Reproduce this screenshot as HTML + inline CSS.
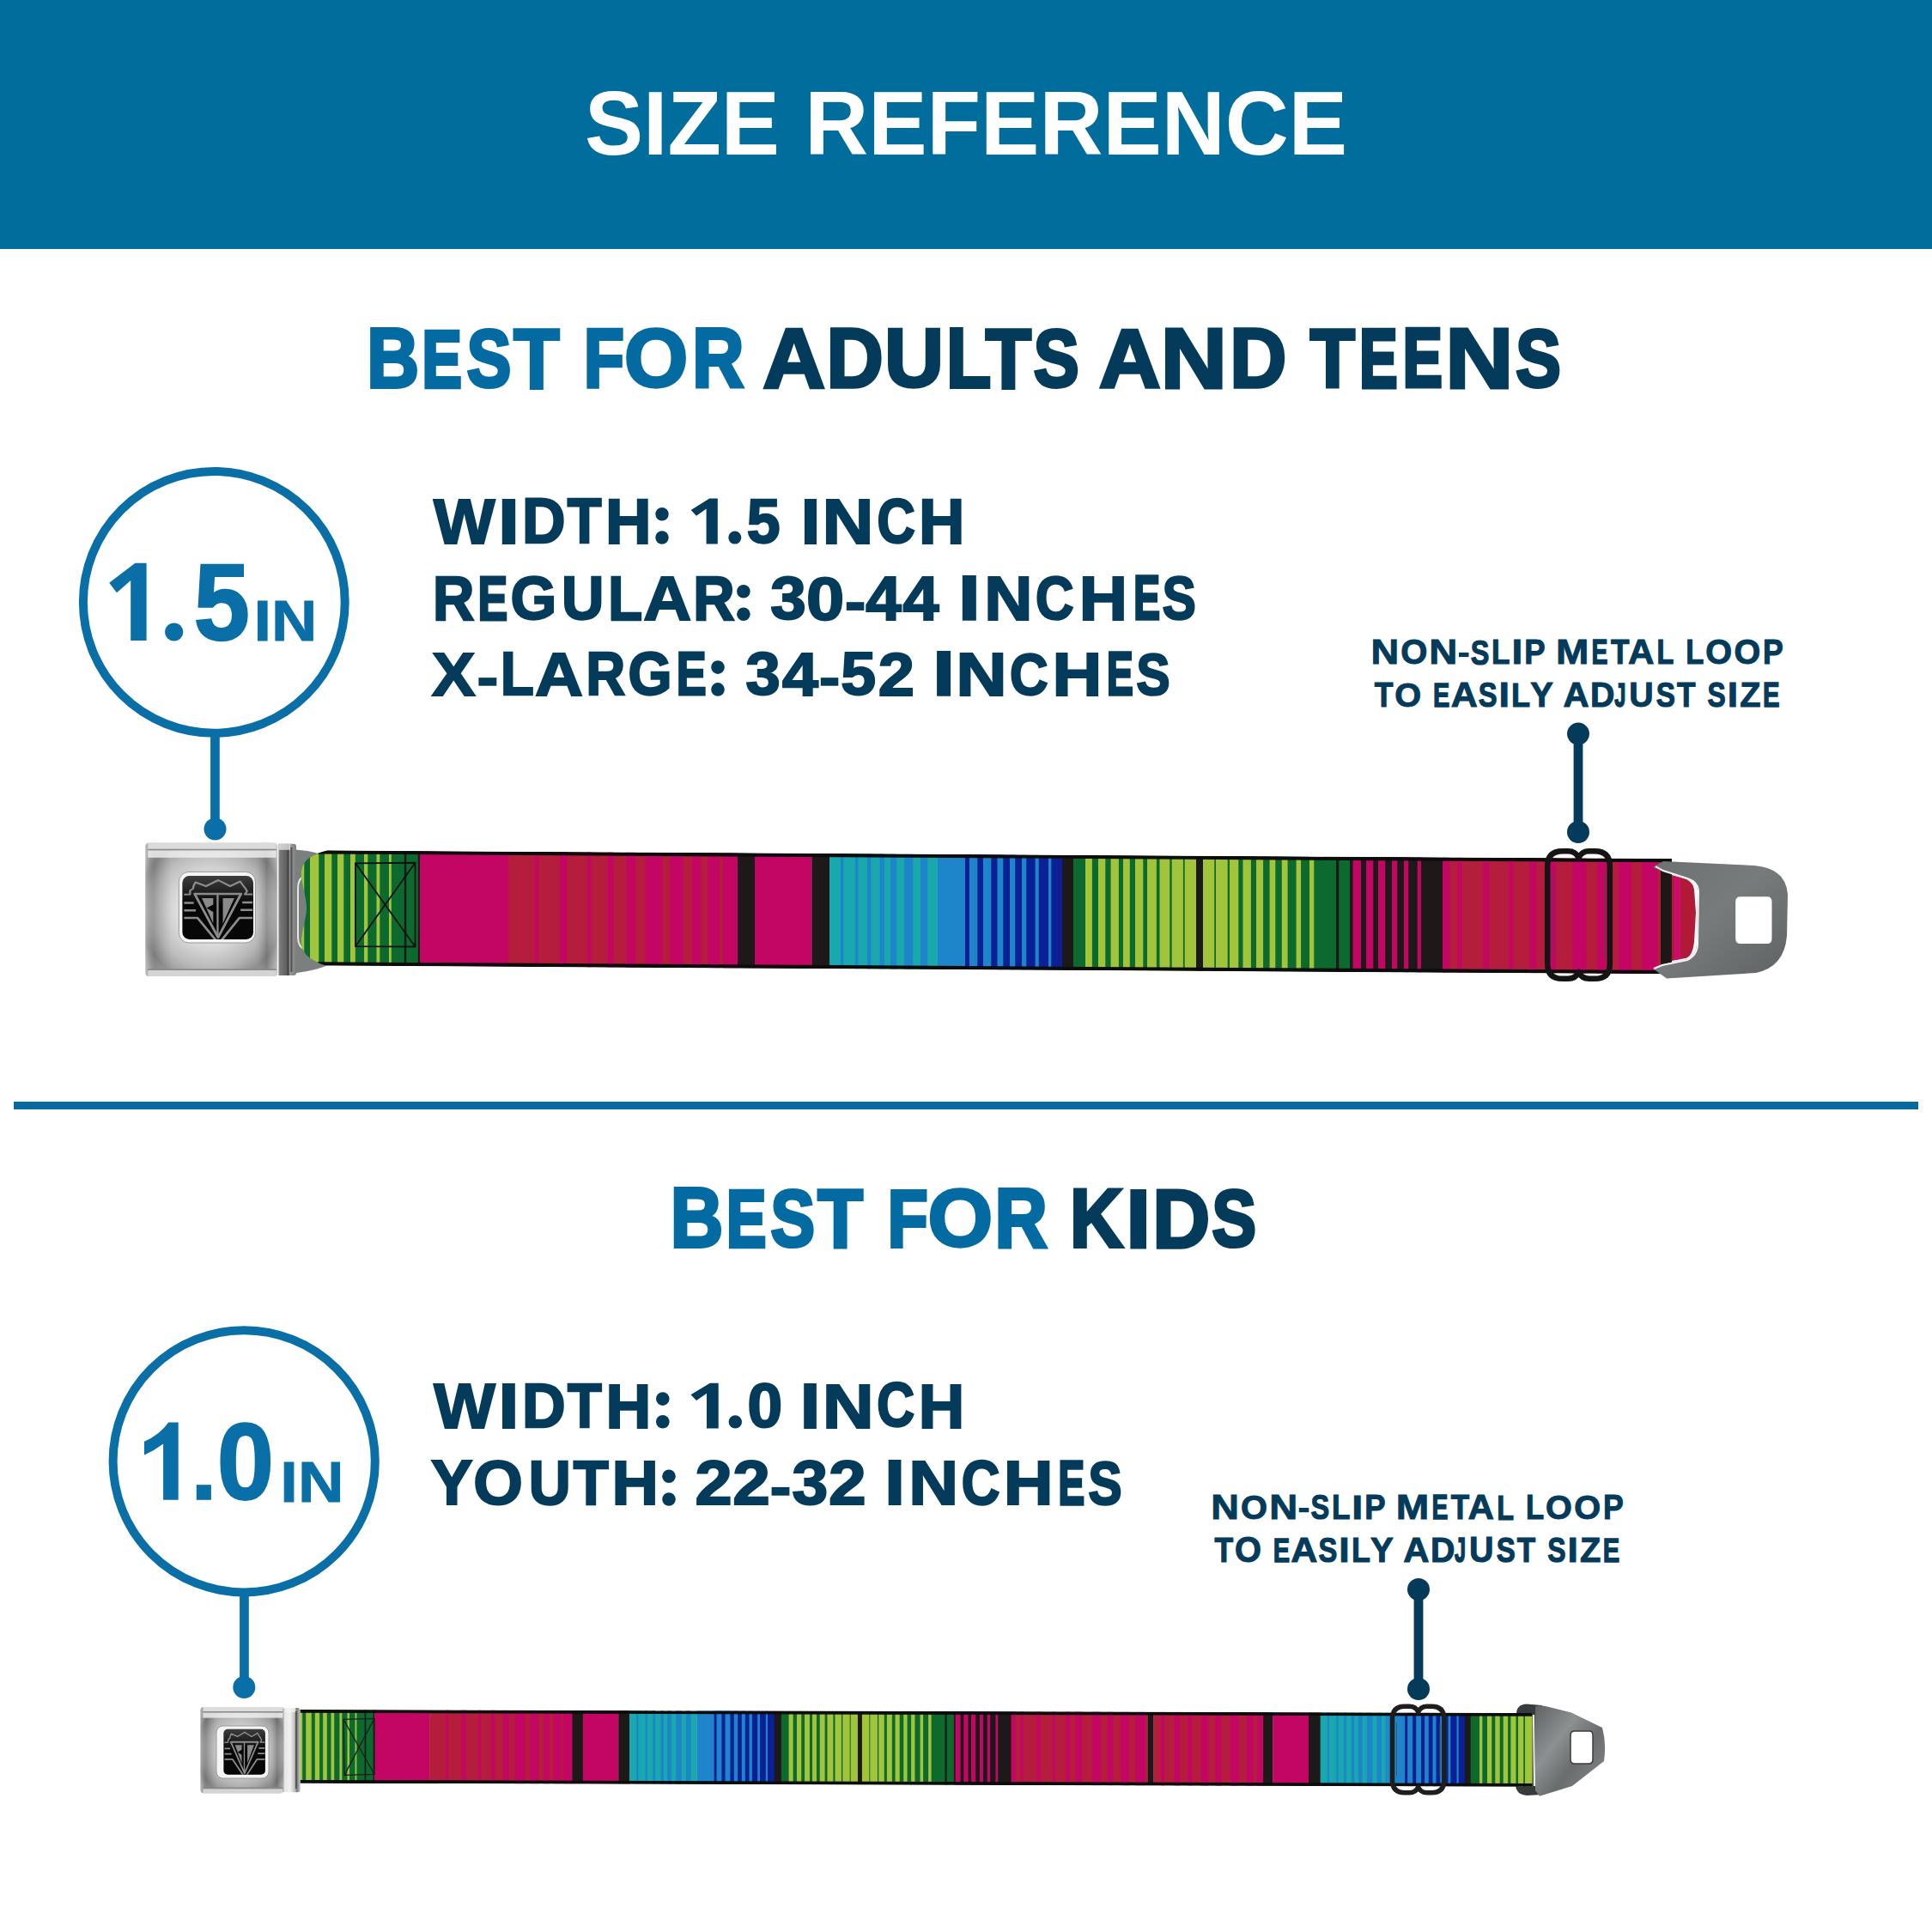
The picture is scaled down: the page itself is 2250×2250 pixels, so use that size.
<!DOCTYPE html>
<html><head><meta charset="utf-8"><style>
html,body{margin:0;padding:0;background:#fff;}
svg{display:block;}
text{font-family:"Liberation Sans",sans-serif;font-weight:bold;}
</style></head><body>
<svg width="2250" height="2250" viewBox="0 0 2250 2250">
<defs>
<radialGradient id="bk1R" cx="0.5" cy="0.5" r="0.64">
<stop offset="0" stop-color="#eaeaea"/><stop offset="0.42" stop-color="#d9d9d9"/><stop offset="0.68" stop-color="#b5b5b5"/><stop offset="0.86" stop-color="#8e8e8e"/><stop offset="1" stop-color="#a9a9a9"/>
</radialGradient>
<radialGradient id="bk2R" cx="0.5" cy="0.5" r="0.64">
<stop offset="0" stop-color="#e2e2e2"/><stop offset="0.42" stop-color="#cdcdcd"/><stop offset="0.68" stop-color="#a9a9a9"/><stop offset="0.86" stop-color="#858585"/><stop offset="1" stop-color="#a0a0a0"/>
</radialGradient>
<linearGradient id="bodyH" x1="0" y1="0" x2="1" y2="0">
<stop offset="0" stop-color="#fff" stop-opacity="0.25"/><stop offset="0.07" stop-color="#000" stop-opacity="0.12"/><stop offset="0.2" stop-color="#fff" stop-opacity="0.1"/><stop offset="0.8" stop-color="#fff" stop-opacity="0.0"/><stop offset="0.92" stop-color="#000" stop-opacity="0.18"/><stop offset="1" stop-color="#fff" stop-opacity="0.15"/>
</linearGradient>
<linearGradient id="clipGbk2" x1="0" y1="0" x2="1" y2="0">
<stop offset="0" stop-color="#9a9a9a"/><stop offset="0.15" stop-color="#e6e6e6"/><stop offset="0.45" stop-color="#f2f2f2"/><stop offset="0.7" stop-color="#bdbdbd"/><stop offset="0.82" stop-color="#7a7a7a"/><stop offset="1" stop-color="#cfcfcf"/>
</linearGradient>
<linearGradient id="clipGbk1" x1="0" y1="0" x2="1" y2="0">
<stop offset="0" stop-color="#e8e8e8"/><stop offset="0.12" stop-color="#f4f4f4"/><stop offset="0.2" stop-color="#7a7a7a"/><stop offset="0.55" stop-color="#5e5e5e"/><stop offset="0.62" stop-color="#3e3e3e"/><stop offset="0.7" stop-color="#9a9a9a"/><stop offset="1" stop-color="#7e7e7e"/>
</linearGradient>
<linearGradient id="glossG" x1="0" y1="0" x2="0" y2="1">
<stop offset="0" stop-color="#fff" stop-opacity="0.22"/><stop offset="1" stop-color="#fff" stop-opacity="0"/>
</linearGradient>
<linearGradient id="tabG" x1="0" y1="0" x2="1" y2="1">
<stop offset="0" stop-color="#6e7171"/><stop offset="0.45" stop-color="#787b7b"/><stop offset="1" stop-color="#5f6262"/>
</linearGradient>
<linearGradient id="tab2G" x1="0" y1="0" x2="1" y2="1">
<stop offset="0" stop-color="#606363"/><stop offset="0.35" stop-color="#8d9090"/><stop offset="0.6" stop-color="#6a6d6d"/><stop offset="1" stop-color="#8a8d8d"/>
</linearGradient>
<clipPath id="b1clip"><path d="M382,995.2 C362,1000 352,1008 351,1020 C350,1035 357,1048 357,1062 C357,1076 350,1090 351,1104 C352,1116 362,1124 380,1129.4 L1947,1129.4 L1947,995.2 Z"/></clipPath>
<clipPath id="b2clip"><rect x="349" y="1992.8" width="1435.5" height="85.7"/></clipPath>
</defs>
<rect x="0" y="0" width="2250" height="290" fill="#016d9c"/>
<rect x="16" y="1283" width="2218" height="9" fill="#066a9e"/>
<text transform="translate(680.97,180.0) scale(0.9582,1)" font-size="106.57" fill="#ffffff" >SIZE</text><text transform="translate(937.25,180.0) scale(0.9678,1)" font-size="105.85" fill="#ffffff" >REFERENCE</text><text transform="translate(427.27,451.0) scale(0.8609,1)" font-size="97.71" fill="#046ba2" stroke="#046ba2" stroke-width="3.95" stroke-linejoin="miter" >B</text><text transform="translate(491.61,450.81803921568627) scale(0.7278,1)" font-size="95.36" fill="#046ba2" stroke="#046ba2" stroke-width="4.67" stroke-linejoin="miter" >E</text><text transform="translate(543.78,450.0) scale(0.8174,1)" font-size="94.48" fill="#046ba2" stroke="#046ba2" stroke-width="4.16" stroke-linejoin="miter" >S</text><text transform="translate(598.37,451.6776470588235) scale(0.8930,1)" font-size="97.59" fill="#046ba2" stroke="#046ba2" stroke-width="3.81" stroke-linejoin="miter" >T</text><text transform="translate(679.89,450.47999999999973) scale(0.7951,1)" font-size="96.31" fill="#046ba2" stroke="#046ba2" stroke-width="4.28" stroke-linejoin="miter" >F</text><text transform="translate(727.01,450.1913725490197) scale(0.9931,1)" font-size="96.08" fill="#046ba2" stroke="#046ba2" stroke-width="3.42" stroke-linejoin="miter" >O</text><text transform="translate(806.24,451.3098039215685) scale(0.8543,1)" font-size="97.54" fill="#046ba2" stroke="#046ba2" stroke-width="3.98" stroke-linejoin="miter" >R</text><text transform="translate(888.31,451.2823529411764) scale(1.0362,1)" font-size="97.48" fill="#043a5a" stroke="#043a5a" stroke-width="3.28" stroke-linejoin="miter" >A</text><text transform="translate(962.47,451.47999999999973) scale(0.9408,1)" font-size="97.55" fill="#043a5a" stroke="#043a5a" stroke-width="3.61" stroke-linejoin="miter" >D</text><text transform="translate(1030.02,449.9937254901956) scale(0.9890,1)" font-size="96.77" fill="#043a5a" stroke="#043a5a" stroke-width="3.44" stroke-linejoin="miter" >U</text><text transform="translate(1102.00,451.0) scale(0.8770,1)" font-size="97.54" fill="#043a5a" stroke="#043a5a" stroke-width="3.88" stroke-linejoin="miter" >L</text><text transform="translate(1147.68,451.6776470588235) scale(0.8931,1)" font-size="97.59" fill="#043a5a" stroke="#043a5a" stroke-width="3.81" stroke-linejoin="miter" >T</text><text transform="translate(1203.72,450.0) scale(0.8393,1)" font-size="94.48" fill="#043a5a" stroke="#043a5a" stroke-width="4.05" stroke-linejoin="miter" >S</text><text transform="translate(1279.73,450.8682352941176) scale(1.0255,1)" font-size="97.17" fill="#043a5a" stroke="#043a5a" stroke-width="3.32" stroke-linejoin="miter" >A</text><text transform="translate(1351.47,451.7647058823528) scale(1.0819,1)" font-size="99.39" fill="#043a5a" stroke="#043a5a" stroke-width="3.14" stroke-linejoin="miter" >N</text><text transform="translate(1432.14,451.47999999999973) scale(0.9380,1)" font-size="97.55" fill="#043a5a" stroke="#043a5a" stroke-width="3.62" stroke-linejoin="miter" >D</text><text transform="translate(1525.74,451.09411764705874) scale(0.8871,1)" font-size="96.30" fill="#043a5a" stroke="#043a5a" stroke-width="3.83" stroke-linejoin="miter" >T</text><text transform="translate(1583.24,450.7647058823528) scale(0.6880,1)" font-size="96.26" fill="#043a5a" stroke="#043a5a" stroke-width="4.94" stroke-linejoin="miter" >E</text><text transform="translate(1633.69,450.46980392156854) scale(0.7094,1)" font-size="97.17" fill="#043a5a" stroke="#043a5a" stroke-width="4.79" stroke-linejoin="miter" >E</text><text transform="translate(1683.08,451.7647058823528) scale(1.1097,1)" font-size="99.41" fill="#043a5a" stroke="#043a5a" stroke-width="3.06" stroke-linejoin="miter" >N</text><text transform="translate(1765.37,450.0) scale(0.8339,1)" font-size="94.48" fill="#043a5a" stroke="#043a5a" stroke-width="4.08" stroke-linejoin="miter" >S</text><text transform="translate(504.89,632.6800000000005) scale(1.0222,1)" font-size="74.12" fill="#043a5a" stroke="#043a5a" stroke-width="2.15" stroke-linejoin="miter" >W</text><text transform="translate(579.80,632.6800000000005) scale(1.2275,1)" font-size="74.68" fill="#043a5a" stroke="#043a5a" stroke-width="1.79" stroke-linejoin="miter" >I</text><text transform="translate(607.90,632.4635294117653) scale(0.9517,1)" font-size="73.57" fill="#043a5a" stroke="#043a5a" stroke-width="2.31" stroke-linejoin="miter" >D</text><text transform="translate(660.77,632.4635294117653) scale(0.8845,1)" font-size="73.57" fill="#043a5a" stroke="#043a5a" stroke-width="2.49" stroke-linejoin="miter" >T</text><text transform="translate(704.94,632.6800000000005) scale(0.9975,1)" font-size="74.38" fill="#043a5a" stroke="#043a5a" stroke-width="2.21" stroke-linejoin="miter" >H</text><text transform="translate(869.72,631.9247058823527) scale(0.9673,1)" font-size="72.15" fill="#043a5a" stroke="#043a5a" stroke-width="2.27" stroke-linejoin="miter" >5</text><text transform="translate(932.38,632.6800000000005) scale(1.1216,1)" font-size="73.81" fill="#043a5a" stroke="#043a5a" stroke-width="1.96" stroke-linejoin="miter" >I</text><text transform="translate(957.61,632.6800000000005) scale(1.1250,1)" font-size="73.81" fill="#043a5a" stroke="#043a5a" stroke-width="1.96" stroke-linejoin="miter" >N</text><text transform="translate(1021.40,631.5388235294118) scale(0.8576,1)" font-size="71.42" fill="#043a5a" stroke="#043a5a" stroke-width="2.57" stroke-linejoin="miter" >C</text><text transform="translate(1070.09,632.6800000000005) scale(0.9957,1)" font-size="74.38" fill="#043a5a" stroke="#043a5a" stroke-width="2.21" stroke-linejoin="miter" >H</text><text transform="translate(504.09,721.7835294117647) scale(0.9288,1)" font-size="72.19" fill="#043a5a" stroke="#043a5a" stroke-width="2.37" stroke-linejoin="miter" >R</text><text transform="translate(556.42,721.7647058823528) scale(0.7244,1)" font-size="71.85" fill="#043a5a" stroke="#043a5a" stroke-width="3.04" stroke-linejoin="miter" >E</text><text transform="translate(594.47,721.4541176470582) scale(0.9697,1)" font-size="71.28" fill="#043a5a" stroke="#043a5a" stroke-width="2.27" stroke-linejoin="miter" >G</text><text transform="translate(653.92,721.0784313725484) scale(0.9620,1)" font-size="71.17" fill="#043a5a" stroke="#043a5a" stroke-width="2.29" stroke-linejoin="miter" >U</text><text transform="translate(708.33,721.7835294117647) scale(0.9045,1)" font-size="72.19" fill="#043a5a" stroke="#043a5a" stroke-width="2.43" stroke-linejoin="miter" >L</text><text transform="translate(749.34,722.0) scale(1.0645,1)" font-size="72.82" fill="#043a5a" stroke="#043a5a" stroke-width="2.07" stroke-linejoin="miter" >A</text><text transform="translate(807.20,721.7835294117647) scale(0.9290,1)" font-size="72.19" fill="#043a5a" stroke="#043a5a" stroke-width="2.37" stroke-linejoin="miter" >R</text><text transform="translate(897.27,721.2125490196074) scale(1.0479,1)" font-size="71.17" fill="#043a5a" stroke="#043a5a" stroke-width="2.10" stroke-linejoin="miter" >3</text><text transform="translate(938.91,721.5952941176463) scale(1.1286,1)" font-size="70.57" fill="#043a5a" stroke="#043a5a" stroke-width="1.95" stroke-linejoin="miter" >0</text><text transform="translate(1008.16,722.0) scale(1.0236,1)" font-size="72.82" fill="#043a5a" stroke="#043a5a" stroke-width="2.15" stroke-linejoin="miter" >4</text><text transform="translate(1051.60,722.0) scale(1.0385,1)" font-size="72.82" fill="#043a5a" stroke="#043a5a" stroke-width="2.12" stroke-linejoin="miter" >4</text><text transform="translate(1115.57,722.4799999999998) scale(1.3044,1)" font-size="73.59" fill="#043a5a" stroke="#043a5a" stroke-width="1.69" stroke-linejoin="miter" >I</text><text transform="translate(1146.23,722.0) scale(1.0730,1)" font-size="72.52" fill="#043a5a" stroke="#043a5a" stroke-width="2.05" stroke-linejoin="miter" >N</text><text transform="translate(1206.07,721.4988235294115) scale(0.8793,1)" font-size="70.15" fill="#043a5a" stroke="#043a5a" stroke-width="2.50" stroke-linejoin="miter" >C</text><text transform="translate(1256.84,722.0) scale(1.0751,1)" font-size="72.52" fill="#043a5a" stroke="#043a5a" stroke-width="2.05" stroke-linejoin="miter" >H</text><text transform="translate(1320.16,721.4799999999998) scale(0.6457,1)" font-size="71.31" fill="#043a5a" stroke="#043a5a" stroke-width="3.41" stroke-linejoin="miter" >E</text><text transform="translate(1353.77,720.9623529411759) scale(0.8307,1)" font-size="70.32" fill="#043a5a" stroke="#043a5a" stroke-width="2.65" stroke-linejoin="miter" >S</text><text transform="translate(503.00,809.6800000000005) scale(1.0646,1)" font-size="71.05" fill="#043a5a" stroke="#043a5a" stroke-width="2.07" stroke-linejoin="miter" >X</text><text transform="translate(582.93,809.4635294117653) scale(0.9001,1)" font-size="70.42" fill="#043a5a" stroke="#043a5a" stroke-width="2.44" stroke-linejoin="miter" >L</text><text transform="translate(623.05,809.6800000000005) scale(1.0911,1)" font-size="71.05" fill="#043a5a" stroke="#043a5a" stroke-width="2.02" stroke-linejoin="miter" >A</text><text transform="translate(682.45,809.4635294117653) scale(0.8978,1)" font-size="70.42" fill="#043a5a" stroke="#043a5a" stroke-width="2.45" stroke-linejoin="miter" >R</text><text transform="translate(731.40,809.0094117647056) scale(0.9407,1)" font-size="69.72" fill="#043a5a" stroke="#043a5a" stroke-width="2.34" stroke-linejoin="miter" >G</text><text transform="translate(787.74,809.4447058823533) scale(0.7436,1)" font-size="70.36" fill="#043a5a" stroke="#043a5a" stroke-width="2.96" stroke-linejoin="miter" >E</text><text transform="translate(868.47,808.8674509803924) scale(1.0149,1)" font-size="71.16" fill="#043a5a" stroke="#043a5a" stroke-width="2.17" stroke-linejoin="miter" >3</text><text transform="translate(910.97,809.6800000000005) scale(1.0621,1)" font-size="71.05" fill="#043a5a" stroke="#043a5a" stroke-width="2.07" stroke-linejoin="miter" >4</text><text transform="translate(979.26,808.8800000000002) scale(1.0335,1)" font-size="71.05" fill="#043a5a" stroke="#043a5a" stroke-width="2.13" stroke-linejoin="miter" >5</text><text transform="translate(1022.83,809.6800000000005) scale(1.0642,1)" font-size="71.28" fill="#043a5a" stroke="#043a5a" stroke-width="2.07" stroke-linejoin="miter" >2</text><text transform="translate(1085.73,810.1600000000003) scale(1.3090,1)" font-size="73.29" fill="#043a5a" stroke="#043a5a" stroke-width="1.68" stroke-linejoin="miter" >I</text><text transform="translate(1113.22,809.6800000000005) scale(1.1593,1)" font-size="71.05" fill="#043a5a" stroke="#043a5a" stroke-width="1.90" stroke-linejoin="miter" >N</text><text transform="translate(1176.09,808.6078431372549) scale(0.8895,1)" font-size="69.30" fill="#043a5a" stroke="#043a5a" stroke-width="2.47" stroke-linejoin="miter" >C</text><text transform="translate(1225.39,809.6800000000005) scale(1.1286,1)" font-size="71.05" fill="#043a5a" stroke="#043a5a" stroke-width="1.95" stroke-linejoin="miter" >H</text><text transform="translate(1288.93,809.1600000000003) scale(0.6513,1)" font-size="70.70" fill="#043a5a" stroke="#043a5a" stroke-width="3.38" stroke-linejoin="miter" >E</text><text transform="translate(1323.62,808.5482352941177) scale(0.8473,1)" font-size="69.05" fill="#043a5a" stroke="#043a5a" stroke-width="2.60" stroke-linejoin="miter" >S</text><text transform="translate(225.65,744.5843137254881) scale(0.9242,1)" font-size="126.64" fill="#0a6fa6" stroke="#0a6fa6" stroke-width="2.38" stroke-linejoin="miter" >5</text><text transform="translate(295.55,745.7647058823528) scale(1.1095,1)" font-size="66.47" fill="#0a6fa6" stroke="#0a6fa6" stroke-width="0.90" stroke-linejoin="miter" >IN</text><text transform="translate(1596.45,773.2666666666665) scale(1.1138,1)" font-size="40.60" fill="#043a5a" stroke="#043a5a" stroke-width="0.90" stroke-linejoin="miter" >N</text><text transform="translate(1631.13,773.2666666666665) scale(0.9766,1)" font-size="40.97" fill="#043a5a" stroke="#043a5a" stroke-width="1.02" stroke-linejoin="miter" >O</text><text transform="translate(1664.33,773.2666666666665) scale(1.1271,1)" font-size="40.60" fill="#043a5a" stroke="#043a5a" stroke-width="0.89" stroke-linejoin="miter" >N</text><text transform="translate(1712.82,773.6964705882351) scale(0.8134,1)" font-size="39.85" fill="#043a5a" stroke="#043a5a" stroke-width="1.23" stroke-linejoin="miter" >S</text><text transform="translate(1736.93,773.0658823529411) scale(0.8763,1)" font-size="40.02" fill="#043a5a" stroke="#043a5a" stroke-width="1.14" stroke-linejoin="miter" >L</text><text transform="translate(1760.52,773.0658823529411) scale(1.1526,1)" font-size="40.02" fill="#043a5a" stroke="#043a5a" stroke-width="0.87" stroke-linejoin="miter" >I</text><text transform="translate(1775.37,773.0658823529411) scale(0.9101,1)" font-size="40.02" fill="#043a5a" stroke="#043a5a" stroke-width="1.10" stroke-linejoin="miter" >P</text><text transform="translate(1812.08,773.2666666666665) scale(1.1359,1)" font-size="40.60" fill="#043a5a" stroke="#043a5a" stroke-width="0.88" stroke-linejoin="miter" >M</text><text transform="translate(1853.60,773.0627450980392) scale(0.7108,1)" font-size="40.01" fill="#043a5a" stroke="#043a5a" stroke-width="1.41" stroke-linejoin="miter" >E</text><text transform="translate(1876.11,773.2666666666665) scale(0.8651,1)" font-size="40.60" fill="#043a5a" stroke="#043a5a" stroke-width="1.16" stroke-linejoin="miter" >T</text><text transform="translate(1895.90,773.2666666666665) scale(1.0399,1)" font-size="40.60" fill="#043a5a" stroke="#043a5a" stroke-width="0.96" stroke-linejoin="miter" >A</text><text transform="translate(1929.50,773.4643137254901) scale(0.8106,1)" font-size="40.01" fill="#043a5a" stroke="#043a5a" stroke-width="1.23" stroke-linejoin="miter" >L</text><text transform="translate(1963.23,773.0658823529411) scale(0.8604,1)" font-size="40.02" fill="#043a5a" stroke="#043a5a" stroke-width="1.16" stroke-linejoin="miter" >L</text><text transform="translate(1986.14,773.2666666666665) scale(0.9682,1)" font-size="40.97" fill="#043a5a" stroke="#043a5a" stroke-width="1.03" stroke-linejoin="miter" >O</text><text transform="translate(2019.44,773.2666666666665) scale(0.9648,1)" font-size="40.99" fill="#043a5a" stroke="#043a5a" stroke-width="1.04" stroke-linejoin="miter" >O</text><text transform="translate(2053.12,773.0658823529411) scale(0.8885,1)" font-size="40.02" fill="#043a5a" stroke="#043a5a" stroke-width="1.13" stroke-linejoin="miter" >P</text><text transform="translate(1600.66,823.066666666667) scale(0.8785,1)" font-size="40.31" fill="#043a5a" stroke="#043a5a" stroke-width="1.14" stroke-linejoin="miter" >T</text><text transform="translate(1624.36,823.066666666667) scale(1.0033,1)" font-size="39.52" fill="#043a5a" stroke="#043a5a" stroke-width="1.00" stroke-linejoin="miter" >O</text><text transform="translate(1669.07,822.8627450980395) scale(0.7293,1)" font-size="39.72" fill="#043a5a" stroke="#043a5a" stroke-width="1.37" stroke-linejoin="miter" >E</text><text transform="translate(1689.72,823.066666666667) scale(1.0679,1)" font-size="40.31" fill="#043a5a" stroke="#043a5a" stroke-width="0.94" stroke-linejoin="miter" >A</text><text transform="translate(1721.87,822.8658823529414) scale(0.8153,1)" font-size="40.10" fill="#043a5a" stroke="#043a5a" stroke-width="1.23" stroke-linejoin="miter" >S</text><text transform="translate(1745.50,822.8658823529414) scale(1.1321,1)" font-size="39.73" fill="#043a5a" stroke="#043a5a" stroke-width="0.88" stroke-linejoin="miter" >I</text><text transform="translate(1760.07,822.8658823529414) scale(0.9074,1)" font-size="39.73" fill="#043a5a" stroke="#043a5a" stroke-width="1.10" stroke-linejoin="miter" >L</text><text transform="translate(1782.28,823.066666666667) scale(0.9889,1)" font-size="40.31" fill="#043a5a" stroke="#043a5a" stroke-width="1.01" stroke-linejoin="miter" >Y</text><text transform="translate(1820.38,823.066666666667) scale(1.0352,1)" font-size="40.31" fill="#043a5a" stroke="#043a5a" stroke-width="0.97" stroke-linejoin="miter" >A</text><text transform="translate(1852.08,823.066666666667) scale(0.9754,1)" font-size="40.31" fill="#043a5a" stroke="#043a5a" stroke-width="1.03" stroke-linejoin="miter" >D</text><text transform="translate(1880.15,822.7152941176472) scale(0.6010,1)" font-size="39.25" fill="#043a5a" stroke="#043a5a" stroke-width="1.66" stroke-linejoin="miter" >J</text><text transform="translate(1897.14,823.2235294117648) scale(0.9691,1)" font-size="40.54" fill="#043a5a" stroke="#043a5a" stroke-width="1.03" stroke-linejoin="miter" >U</text><text transform="translate(1928.85,822.9129411764708) scale(0.8277,1)" font-size="40.28" fill="#043a5a" stroke="#043a5a" stroke-width="1.21" stroke-linejoin="miter" >S</text><text transform="translate(1952.91,823.066666666667) scale(0.8742,1)" font-size="40.31" fill="#043a5a" stroke="#043a5a" stroke-width="1.14" stroke-linejoin="miter" >T</text><text transform="translate(1988.38,823.3427450980394) scale(0.7898,1)" font-size="40.25" fill="#043a5a" stroke="#043a5a" stroke-width="1.27" stroke-linejoin="miter" >S</text><text transform="translate(2011.85,822.8658823529414) scale(1.1178,1)" font-size="39.73" fill="#043a5a" stroke="#043a5a" stroke-width="0.89" stroke-linejoin="miter" >I</text><text transform="translate(2026.18,823.066666666667) scale(0.9841,1)" font-size="40.31" fill="#043a5a" stroke="#043a5a" stroke-width="1.02" stroke-linejoin="miter" >Z</text><text transform="translate(2052.90,822.8627450980395) scale(0.7392,1)" font-size="39.72" fill="#043a5a" stroke="#043a5a" stroke-width="1.35" stroke-linejoin="miter" >E</text><text transform="translate(780.86,1452.1600000000012) scale(0.8735,1)" font-size="97.36" fill="#046ba2" stroke="#046ba2" stroke-width="3.89" stroke-linejoin="miter" >B</text><text transform="translate(846.06,1451.7521568627462) scale(0.7331,1)" font-size="94.74" fill="#046ba2" stroke="#046ba2" stroke-width="4.64" stroke-linejoin="miter" >E</text><text transform="translate(897.57,1451.1600000000012) scale(0.8243,1)" font-size="93.60" fill="#046ba2" stroke="#046ba2" stroke-width="4.12" stroke-linejoin="miter" >S</text><text transform="translate(952.22,1452.8933333333343) scale(0.8973,1)" font-size="96.18" fill="#046ba2" stroke="#046ba2" stroke-width="3.79" stroke-linejoin="miter" >T</text><text transform="translate(1033.68,1451.7396078431384) scale(0.8033,1)" font-size="95.39" fill="#046ba2" stroke="#046ba2" stroke-width="4.23" stroke-linejoin="miter" >F</text><text transform="translate(1080.58,1451.138039215687) scale(1.0280,1)" font-size="94.59" fill="#046ba2" stroke="#046ba2" stroke-width="3.31" stroke-linejoin="miter" >O</text><text transform="translate(1158.57,1452.6149019607856) scale(0.8711,1)" font-size="97.46" fill="#046ba2" stroke="#046ba2" stroke-width="3.90" stroke-linejoin="miter" >R</text><text transform="translate(1245.91,1452.1600000000012) scale(0.8922,1)" font-size="96.18" fill="#043a5a" stroke="#043a5a" stroke-width="3.81" stroke-linejoin="miter" >K</text><text transform="translate(1310.99,1452.724705882354) scale(1.0858,1)" font-size="97.31" fill="#043a5a" stroke="#043a5a" stroke-width="3.13" stroke-linejoin="miter" >I</text><text transform="translate(1342.29,1452.640000000001) scale(0.9566,1)" font-size="96.91" fill="#043a5a" stroke="#043a5a" stroke-width="3.55" stroke-linejoin="miter" >D</text><text transform="translate(1411.57,1451.1600000000012) scale(0.8243,1)" font-size="93.60" fill="#043a5a" stroke="#043a5a" stroke-width="4.12" stroke-linejoin="miter" >S</text><text transform="translate(505.16,1662.6799999999978) scale(1.0339,1)" font-size="73.31" fill="#043a5a" stroke="#043a5a" stroke-width="2.13" stroke-linejoin="miter" >W</text><text transform="translate(580.23,1662.6799999999978) scale(1.1953,1)" font-size="73.31" fill="#043a5a" stroke="#043a5a" stroke-width="1.84" stroke-linejoin="miter" >I</text><text transform="translate(608.02,1662.4635294117625) scale(0.9608,1)" font-size="73.01" fill="#043a5a" stroke="#043a5a" stroke-width="2.29" stroke-linejoin="miter" >D</text><text transform="translate(660.95,1662.4635294117625) scale(0.8946,1)" font-size="72.73" fill="#043a5a" stroke="#043a5a" stroke-width="2.46" stroke-linejoin="miter" >T</text><text transform="translate(705.38,1662.6799999999978) scale(1.0061,1)" font-size="72.72" fill="#043a5a" stroke="#043a5a" stroke-width="2.19" stroke-linejoin="miter" >H</text><text transform="translate(870.53,1661.914509803919) scale(1.0114,1)" font-size="72.25" fill="#043a5a" stroke="#043a5a" stroke-width="2.18" stroke-linejoin="miter" >0</text><text transform="translate(931.43,1662.6799999999978) scale(1.1809,1)" font-size="73.31" fill="#043a5a" stroke="#043a5a" stroke-width="1.86" stroke-linejoin="miter" >I</text><text transform="translate(957.65,1662.6799999999978) scale(1.1377,1)" font-size="73.02" fill="#043a5a" stroke="#043a5a" stroke-width="1.93" stroke-linejoin="miter" >N</text><text transform="translate(1021.15,1661.488627450978) scale(0.8484,1)" font-size="71.48" fill="#043a5a" stroke="#043a5a" stroke-width="2.59" stroke-linejoin="miter" >C</text><text transform="translate(1069.71,1662.6799999999978) scale(1.0198,1)" font-size="72.72" fill="#043a5a" stroke="#043a5a" stroke-width="2.16" stroke-linejoin="miter" >H</text><text transform="translate(502.10,1752.439999999999) scale(0.9903,1)" font-size="73.31" fill="#043a5a" stroke="#043a5a" stroke-width="2.22" stroke-linejoin="miter" >Y</text><text transform="translate(551.37,1752.4933333333317) scale(1.0247,1)" font-size="72.29" fill="#043a5a" stroke="#043a5a" stroke-width="2.15" stroke-linejoin="miter" >O</text><text transform="translate(615.77,1752.2870588235278) scale(0.9468,1)" font-size="71.61" fill="#043a5a" stroke="#043a5a" stroke-width="2.32" stroke-linejoin="miter" >U</text><text transform="translate(667.87,1752.2235294117636) scale(0.9192,1)" font-size="73.01" fill="#043a5a" stroke="#043a5a" stroke-width="2.39" stroke-linejoin="miter" >T</text><text transform="translate(712.42,1752.439999999999) scale(1.0365,1)" font-size="72.72" fill="#043a5a" stroke="#043a5a" stroke-width="2.12" stroke-linejoin="miter" >H</text><text transform="translate(809.59,1752.439999999999) scale(1.0689,1)" font-size="72.54" fill="#043a5a" stroke="#043a5a" stroke-width="2.06" stroke-linejoin="miter" >2</text><text transform="translate(853.13,1752.439999999999) scale(1.0804,1)" font-size="72.53" fill="#043a5a" stroke="#043a5a" stroke-width="2.04" stroke-linejoin="miter" >2</text><text transform="translate(922.50,1752.4431372549004) scale(1.0474,1)" font-size="71.59" fill="#043a5a" stroke="#043a5a" stroke-width="2.10" stroke-linejoin="miter" >3</text><text transform="translate(964.96,1752.439999999999) scale(1.0828,1)" font-size="72.52" fill="#043a5a" stroke="#043a5a" stroke-width="2.03" stroke-linejoin="miter" >2</text><text transform="translate(1029.93,1752.439999999999) scale(1.1850,1)" font-size="73.31" fill="#043a5a" stroke="#043a5a" stroke-width="1.86" stroke-linejoin="miter" >I</text><text transform="translate(1058.37,1752.439999999999) scale(1.1023,1)" font-size="72.72" fill="#043a5a" stroke="#043a5a" stroke-width="2.00" stroke-linejoin="miter" >N</text><text transform="translate(1119.78,1752.0674509803907) scale(0.8649,1)" font-size="71.48" fill="#043a5a" stroke="#043a5a" stroke-width="2.54" stroke-linejoin="miter" >C</text><text transform="translate(1168.85,1752.439999999999) scale(1.1028,1)" font-size="72.72" fill="#043a5a" stroke="#043a5a" stroke-width="1.99" stroke-linejoin="miter" >H</text><text transform="translate(1232.62,1751.9199999999987) scale(0.6411,1)" font-size="71.51" fill="#043a5a" stroke="#043a5a" stroke-width="3.43" stroke-linejoin="miter" >E</text><text transform="translate(1267.52,1752.2086274509788) scale(0.8285,1)" font-size="70.67" fill="#043a5a" stroke="#043a5a" stroke-width="2.66" stroke-linejoin="miter" >S</text><text transform="translate(252.72,1746.1803921568642) scale(0.9391,1)" font-size="126.92" fill="#0a6fa6" stroke="#0a6fa6" stroke-width="2.13" stroke-linejoin="miter" >0</text><text transform="translate(326.34,1748.7647058823527) scale(1.0985,1)" font-size="67.54" fill="#0a6fa6" stroke="#0a6fa6" stroke-width="0.91" stroke-linejoin="miter" >IN</text><text transform="translate(1410.22,1769.2666666666667) scale(1.1219,1)" font-size="40.31" fill="#043a5a" stroke="#043a5a" stroke-width="0.89" stroke-linejoin="miter" >N</text><text transform="translate(1445.05,1769.2666666666667) scale(1.0079,1)" font-size="39.51" fill="#043a5a" stroke="#043a5a" stroke-width="0.99" stroke-linejoin="miter" >O</text><text transform="translate(1478.37,1769.2666666666667) scale(1.1324,1)" font-size="40.31" fill="#043a5a" stroke="#043a5a" stroke-width="0.88" stroke-linejoin="miter" >N</text><text transform="translate(1526.58,1769.0658823529411) scale(0.8108,1)" font-size="40.09" fill="#043a5a" stroke="#043a5a" stroke-width="1.23" stroke-linejoin="miter" >S</text><text transform="translate(1550.88,1769.0658823529411) scale(0.8825,1)" font-size="39.73" fill="#043a5a" stroke="#043a5a" stroke-width="1.13" stroke-linejoin="miter" >L</text><text transform="translate(1574.31,1769.0658823529411) scale(1.1775,1)" font-size="39.73" fill="#043a5a" stroke="#043a5a" stroke-width="0.85" stroke-linejoin="miter" >I</text><text transform="translate(1589.31,1769.0658823529411) scale(0.9160,1)" font-size="39.73" fill="#043a5a" stroke="#043a5a" stroke-width="1.09" stroke-linejoin="miter" >P</text><text transform="translate(1625.87,1769.2666666666667) scale(1.1466,1)" font-size="40.31" fill="#043a5a" stroke="#043a5a" stroke-width="0.87" stroke-linejoin="miter" >M</text><text transform="translate(1667.53,1769.0627450980392) scale(0.7139,1)" font-size="39.72" fill="#043a5a" stroke="#043a5a" stroke-width="1.40" stroke-linejoin="miter" >E</text><text transform="translate(1689.86,1769.2666666666667) scale(0.8678,1)" font-size="40.31" fill="#043a5a" stroke="#043a5a" stroke-width="1.15" stroke-linejoin="miter" >T</text><text transform="translate(1709.62,1769.2666666666667) scale(1.0465,1)" font-size="40.31" fill="#043a5a" stroke="#043a5a" stroke-width="0.96" stroke-linejoin="miter" >A</text><text transform="translate(1743.36,1769.6650980392155) scale(0.8032,1)" font-size="40.31" fill="#043a5a" stroke="#043a5a" stroke-width="1.25" stroke-linejoin="miter" >L</text><text transform="translate(1777.04,1769.0658823529411) scale(0.8709,1)" font-size="39.73" fill="#043a5a" stroke="#043a5a" stroke-width="1.15" stroke-linejoin="miter" >L</text><text transform="translate(1800.09,1769.2666666666667) scale(1.0012,1)" font-size="39.52" fill="#043a5a" stroke="#043a5a" stroke-width="1.00" stroke-linejoin="miter" >O</text><text transform="translate(1833.36,1769.2666666666667) scale(1.0033,1)" font-size="39.52" fill="#043a5a" stroke="#043a5a" stroke-width="1.00" stroke-linejoin="miter" >O</text><text transform="translate(1866.92,1769.0658823529411) scale(0.8933,1)" font-size="39.73" fill="#043a5a" stroke="#043a5a" stroke-width="1.12" stroke-linejoin="miter" >P</text><text transform="translate(1414.42,1819.0666666666664) scale(0.8576,1)" font-size="41.33" fill="#043a5a" stroke="#043a5a" stroke-width="1.17" stroke-linejoin="miter" >T</text><text transform="translate(1438.02,1819.0666666666664) scale(0.9538,1)" font-size="41.69" fill="#043a5a" stroke="#043a5a" stroke-width="1.05" stroke-linejoin="miter" >O</text><text transform="translate(1482.80,1818.8627450980389) scale(0.7335,1)" font-size="39.57" fill="#043a5a" stroke="#043a5a" stroke-width="1.36" stroke-linejoin="miter" >E</text><text transform="translate(1503.34,1819.0666666666664) scale(1.0422,1)" font-size="41.33" fill="#043a5a" stroke="#043a5a" stroke-width="0.96" stroke-linejoin="miter" >A</text><text transform="translate(1535.62,1818.690196078431) scale(0.8074,1)" font-size="40.52" fill="#043a5a" stroke="#043a5a" stroke-width="1.24" stroke-linejoin="miter" >S</text><text transform="translate(1559.34,1818.8658823529408) scale(1.0961,1)" font-size="40.74" fill="#043a5a" stroke="#043a5a" stroke-width="0.91" stroke-linejoin="miter" >I</text><text transform="translate(1574.06,1818.8658823529408) scale(0.8794,1)" font-size="40.74" fill="#043a5a" stroke="#043a5a" stroke-width="1.14" stroke-linejoin="miter" >L</text><text transform="translate(1595.96,1819.0666666666664) scale(0.9721,1)" font-size="41.33" fill="#043a5a" stroke="#043a5a" stroke-width="1.03" stroke-linejoin="miter" >Y</text><text transform="translate(1634.19,1819.0666666666664) scale(1.0157,1)" font-size="41.33" fill="#043a5a" stroke="#043a5a" stroke-width="0.98" stroke-linejoin="miter" >A</text><text transform="translate(1665.92,1819.0666666666664) scale(0.9517,1)" font-size="41.33" fill="#043a5a" stroke="#043a5a" stroke-width="1.05" stroke-linejoin="miter" >D</text><text transform="translate(1693.90,1818.693333333333) scale(0.5816,1)" font-size="40.24" fill="#043a5a" stroke="#043a5a" stroke-width="1.72" stroke-linejoin="miter" >J</text><text transform="translate(1710.91,1819.2894117647054) scale(0.9481,1)" font-size="41.65" fill="#043a5a" stroke="#043a5a" stroke-width="1.05" stroke-linejoin="miter" >U</text><text transform="translate(1742.87,1818.8658823529408) scale(0.8019,1)" font-size="41.16" fill="#043a5a" stroke="#043a5a" stroke-width="1.25" stroke-linejoin="miter" >S</text><text transform="translate(1766.82,1819.0666666666664) scale(0.8480,1)" font-size="41.33" fill="#043a5a" stroke="#043a5a" stroke-width="1.18" stroke-linejoin="miter" >T</text><text transform="translate(1802.19,1819.342745098039) scale(0.7983,1)" font-size="40.05" fill="#043a5a" stroke="#043a5a" stroke-width="1.25" stroke-linejoin="miter" >S</text><text transform="translate(1825.58,1818.8658823529408) scale(1.0901,1)" font-size="40.74" fill="#043a5a" stroke="#043a5a" stroke-width="0.92" stroke-linejoin="miter" >I</text><text transform="translate(1839.95,1819.0666666666664) scale(0.9630,1)" font-size="41.33" fill="#043a5a" stroke="#043a5a" stroke-width="1.04" stroke-linejoin="miter" >Z</text><text transform="translate(1866.70,1818.8627450980389) scale(0.7399,1)" font-size="39.57" fill="#043a5a" stroke="#043a5a" stroke-width="1.35" stroke-linejoin="miter" >E</text>
<circle cx="771.0" cy="626.0" r="7.7" fill="#043a5a"/><circle cx="771.0" cy="598.8" r="7.7" fill="#043a5a"/><path d="M826.3,580.5 L835.8,580.5 L835.8,633.6 L822.6,633.6 L822.6,592.4 L811.0,600.7 L804.7,594.0 Z" fill="#043a5a"/><circle cx="855.8" cy="626.1" r="7.5" fill="#043a5a"/><circle cx="865.9" cy="715.2" r="7.8" fill="#043a5a"/><circle cx="865.9" cy="688.8" r="7.8" fill="#043a5a"/><rect x="985.8" y="701.2" width="20.5" height="9.7" fill="#043a5a"/><rect x="557.4" y="789.2" width="20.9" height="9.5" fill="#043a5a"/><circle cx="836.0" cy="802.9" r="7.8" fill="#043a5a"/><circle cx="836.0" cy="777.1" r="7.8" fill="#043a5a"/><rect x="955.8" y="789.2" width="20.5" height="9.5" fill="#043a5a"/><rect x="1699.0" y="759.9" width="11.5" height="5.2" fill="#043a5a"/><circle cx="771.8" cy="1655.8" r="7.8" fill="#043a5a"/><circle cx="771.8" cy="1629.1" r="7.8" fill="#043a5a"/><path d="M826.9,1610.8 L836.7,1610.8 L836.7,1663.6 L823.0,1663.6 L823.0,1622.7 L811.0,1630.9 L804.5,1624.2 Z" fill="#043a5a"/><circle cx="856.3" cy="1655.9" r="7.7" fill="#043a5a"/><circle cx="779.0" cy="1746.0" r="7.8" fill="#043a5a"/><circle cx="779.0" cy="1719.3" r="7.8" fill="#043a5a"/><rect x="898.6" y="1731.9" width="20.8" height="9.8" fill="#043a5a"/><rect x="1512.8" y="1756.0" width="11.5" height="5.2" fill="#043a5a"/>
<!-- circles -->
<path d="M157.4,655.8 L170.6,655.8 L170.6,746.1 L152.2,746.1 L152.2,676.1 L136,690.2 L127.2,678.7 Z" fill="#0a6fa6"/>
<circle cx="202.7" cy="736" r="10.6" fill="#0a6fa6"/>
<path d="M196.2,1656.4 L207.7,1656.4 L207.7,1746.8 L190.1,1746.8 L190.1,1681.4 Q180,1689 168,1694.6 L168,1678.7 Q186,1671 196.2,1656.4 Z" fill="#0a6fa6"/>
<rect x="228.8" y="1729.2" width="17.1" height="17.6" fill="#0a6fa6"/>
<circle cx="249.3" cy="701.3" r="152.4" fill="none" stroke="#0a6fa6" stroke-width="10"/>
<rect x="245.1" y="856" width="10.7" height="108" fill="#0a6fa6"/>
<circle cx="250.5" cy="965.5" r="13" fill="#0a6fa6"/>
<circle cx="284.2" cy="1701.8" r="152.6" fill="none" stroke="#0a6fa6" stroke-width="10"/>
<rect x="279.1" y="1857" width="10.7" height="106" fill="#0a6fa6"/>
<circle cx="284.3" cy="1965" r="13" fill="#0a6fa6"/>
<!-- loop pointers -->
<circle cx="1838" cy="854.6" r="13" fill="#043a5a"/>
<rect x="1832.6" y="855" width="10.8" height="114" fill="#043a5a"/>
<circle cx="1838" cy="969" r="13" fill="#043a5a"/>
<circle cx="1652" cy="1851" r="13" fill="#043a5a"/>
<rect x="1646.6" y="1851" width="10.8" height="116" fill="#043a5a"/>
<circle cx="1652" cy="1967" r="13" fill="#043a5a"/>

<!-- ===== BELT 1 ===== -->
<path d="M340,989 L358,991 Q375,994 385,1000 L385,1122 Q375,1128 358,1131 L340,1134 Z" fill="#7c7f7f"/>
<path d="M356,1020 Q347,1022 347,1034 L347,1092 Q347,1103 356,1106" fill="none" stroke="#e6e6e6" stroke-width="2"/>
<g transform="matrix(1,0.00625,0,1,0,-7.250)">
<g clip-path="url(#b1clip)">
<rect x="340.00" y="995.2" width="149.30" height="134.20000000000005" fill="#0d6a2f"/>
<rect x="340.00" y="995.2" width="14.30" height="134.20000000000005" fill="#a2c43a"/>
<rect x="361.00" y="995.2" width="10.30" height="134.20000000000005" fill="#a2c43a"/>
<rect x="378.00" y="995.2" width="8.30" height="134.20000000000005" fill="#a2c43a"/>
<rect x="393.00" y="995.2" width="7.30" height="134.20000000000005" fill="#a2c43a"/>
<rect x="408.00" y="995.2" width="5.80" height="134.20000000000005" fill="#a2c43a"/>
<rect x="424.00" y="995.2" width="4.30" height="134.20000000000005" fill="#a2c43a"/>
<rect x="438.50" y="995.2" width="3.80" height="134.20000000000005" fill="#a2c43a"/>
<rect x="453.00" y="995.2" width="2.80" height="134.20000000000005" fill="#a2c43a"/>
<rect x="470.80" y="995.2" width="2.50" height="134.20000000000005" fill="#1d1919"/>
<rect x="486.80" y="995.2" width="2.50" height="134.20000000000005" fill="#1d1919"/>
<rect x="489.00" y="995.2" width="103.30" height="134.20000000000005" fill="#c30664"/>
<rect x="592.00" y="995.2" width="267.30" height="134.20000000000005" fill="#b41d3b"/>
<rect x="623.00" y="995.2" width="4.30" height="134.20000000000005" fill="#c30664"/>
<rect x="652.00" y="995.2" width="8.30" height="134.20000000000005" fill="#c30664"/>
<rect x="684.00" y="995.2" width="4.30" height="134.20000000000005" fill="#c30664"/>
<rect x="707.50" y="995.2" width="6.80" height="134.20000000000005" fill="#c30664"/>
<rect x="729.50" y="995.2" width="10.80" height="134.20000000000005" fill="#c30664"/>
<rect x="751.50" y="995.2" width="19.80" height="134.20000000000005" fill="#c30664"/>
<rect x="780.00" y="995.2" width="15.80" height="134.20000000000005" fill="#c30664"/>
<rect x="806.00" y="995.2" width="10.30" height="134.20000000000005" fill="#c30664"/>
<rect x="824.00" y="995.2" width="14.30" height="134.20000000000005" fill="#c30664"/>
<rect x="842.00" y="995.2" width="17.30" height="134.20000000000005" fill="#c30664"/>
<rect x="859.00" y="995.2" width="20.30" height="134.20000000000005" fill="#1d1919"/>
<rect x="879.00" y="995.2" width="66.80" height="134.20000000000005" fill="#c30664"/>
<rect x="945.50" y="995.2" width="20.80" height="134.20000000000005" fill="#1d1919"/>
<rect x="966.00" y="995.2" width="126.30" height="134.20000000000005" fill="#18a8ae"/>
<rect x="979.00" y="995.2" width="3.30" height="134.20000000000005" fill="#1e85ca"/>
<rect x="996.00" y="995.2" width="3.30" height="134.20000000000005" fill="#1e85ca"/>
<rect x="1010.00" y="995.2" width="4.30" height="134.20000000000005" fill="#1e85ca"/>
<rect x="1024.50" y="995.2" width="5.40" height="134.20000000000005" fill="#1e85ca"/>
<rect x="1037.00" y="995.2" width="7.30" height="134.20000000000005" fill="#1e85ca"/>
<rect x="1053.00" y="995.2" width="10.30" height="134.20000000000005" fill="#1e85ca"/>
<rect x="1072.00" y="995.2" width="8.30" height="134.20000000000005" fill="#1e85ca"/>
<rect x="1092.00" y="995.2" width="32.30" height="134.20000000000005" fill="#1e85ca"/>
<rect x="1124.00" y="995.2" width="113.30" height="134.20000000000005" fill="#0c2095"/>
<rect x="1129.00" y="995.2" width="9.30" height="134.20000000000005" fill="#1e85ca"/>
<rect x="1145.00" y="995.2" width="9.30" height="134.20000000000005" fill="#1e85ca"/>
<rect x="1161.50" y="995.2" width="6.80" height="134.20000000000005" fill="#1e85ca"/>
<rect x="1176.00" y="995.2" width="6.30" height="134.20000000000005" fill="#1e85ca"/>
<rect x="1190.00" y="995.2" width="5.30" height="134.20000000000005" fill="#1e85ca"/>
<rect x="1205.60" y="995.2" width="4.20" height="134.20000000000005" fill="#1e85ca"/>
<rect x="1221.00" y="995.2" width="3.30" height="134.20000000000005" fill="#1e85ca"/>
<rect x="1237.00" y="995.2" width="13.30" height="134.20000000000005" fill="#1d1919"/>
<rect x="1250.00" y="995.2" width="143.30" height="134.20000000000005" fill="#0d6a2f"/>
<rect x="1264.00" y="995.2" width="7.90" height="134.20000000000005" fill="#a2c43a"/>
<rect x="1279.00" y="995.2" width="8.30" height="134.20000000000005" fill="#a2c43a"/>
<rect x="1293.60" y="995.2" width="9.30" height="134.20000000000005" fill="#a2c43a"/>
<rect x="1308.00" y="995.2" width="7.80" height="134.20000000000005" fill="#a2c43a"/>
<rect x="1322.00" y="995.2" width="9.30" height="134.20000000000005" fill="#a2c43a"/>
<rect x="1336.00" y="995.2" width="10.90" height="134.20000000000005" fill="#a2c43a"/>
<rect x="1350.50" y="995.2" width="11.80" height="134.20000000000005" fill="#a2c43a"/>
<rect x="1364.70" y="995.2" width="13.20" height="134.20000000000005" fill="#a2c43a"/>
<rect x="1379.70" y="995.2" width="13.60" height="134.20000000000005" fill="#a2c43a"/>
<rect x="1393.00" y="995.2" width="8.30" height="134.20000000000005" fill="#1d1919"/>
<rect x="1401.00" y="995.2" width="141.30" height="134.20000000000005" fill="#0d6a2f"/>
<rect x="1401.00" y="995.2" width="13.30" height="134.20000000000005" fill="#a2c43a"/>
<rect x="1416.00" y="995.2" width="13.70" height="134.20000000000005" fill="#a2c43a"/>
<rect x="1432.00" y="995.2" width="10.30" height="134.20000000000005" fill="#a2c43a"/>
<rect x="1447.50" y="995.2" width="9.40" height="134.20000000000005" fill="#a2c43a"/>
<rect x="1463.00" y="995.2" width="8.10" height="134.20000000000005" fill="#a2c43a"/>
<rect x="1478.60" y="995.2" width="6.70" height="134.20000000000005" fill="#a2c43a"/>
<rect x="1492.80" y="995.2" width="6.80" height="134.20000000000005" fill="#a2c43a"/>
<rect x="1509.60" y="995.2" width="5.50" height="134.20000000000005" fill="#a2c43a"/>
<rect x="1525.00" y="995.2" width="5.30" height="134.20000000000005" fill="#a2c43a"/>
<rect x="1542.00" y="995.2" width="30.30" height="134.20000000000005" fill="#0d6a2f"/>
<rect x="1556.00" y="995.2" width="3.30" height="134.20000000000005" fill="#1d1919"/>
<rect x="1572.00" y="995.2" width="83.30" height="134.20000000000005" fill="#1d1919"/>
<rect x="1575.60" y="995.2" width="9.40" height="134.20000000000005" fill="#c30664"/>
<rect x="1591.00" y="995.2" width="8.30" height="134.20000000000005" fill="#c30664"/>
<rect x="1605.00" y="995.2" width="8.30" height="134.20000000000005" fill="#c30664"/>
<rect x="1621.00" y="995.2" width="6.30" height="134.20000000000005" fill="#c30664"/>
<rect x="1635.00" y="995.2" width="5.30" height="134.20000000000005" fill="#c30664"/>
<rect x="1650.70" y="995.2" width="4.20" height="134.20000000000005" fill="#c30664"/>
<rect x="1655.00" y="995.2" width="25.30" height="134.20000000000005" fill="#1d1919"/>
<rect x="1680.00" y="995.2" width="255.30" height="134.20000000000005" fill="#b41d3b"/>
<rect x="1680.00" y="995.2" width="8.30" height="134.20000000000005" fill="#c30664"/>
<rect x="1697.70" y="995.2" width="5.00" height="134.20000000000005" fill="#c30664"/>
<rect x="1727.50" y="995.2" width="6.80" height="134.20000000000005" fill="#c30664"/>
<rect x="1757.00" y="995.2" width="5.30" height="134.20000000000005" fill="#c30664"/>
<rect x="1781.60" y="995.2" width="7.70" height="134.20000000000005" fill="#c30664"/>
<rect x="1800.00" y="995.2" width="12.30" height="134.20000000000005" fill="#c30664"/>
<rect x="1831.00" y="995.2" width="16.30" height="134.20000000000005" fill="#c30664"/>
<rect x="1860.00" y="995.2" width="10.30" height="134.20000000000005" fill="#c30664"/>
<rect x="1885.00" y="995.2" width="15.30" height="134.20000000000005" fill="#c30664"/>
<rect x="1912.00" y="995.2" width="18.30" height="134.20000000000005" fill="#c30664"/>
<rect x="1935.00" y="995.2" width="11.30" height="134.20000000000005" fill="#1d1919"/>
<rect x="1946.00" y="995.2" width="1.30" height="134.20000000000005" fill="#b41d3b"/>
<rect x="370" y="995.2" width="1580" height="4.2" fill="#0c0c0c"/>
<rect x="370" y="1125.2" width="1580" height="4.2" fill="#0c0c0c"/>
</g>
<g stroke="#111" stroke-width="1.8" fill="none"><path d="M413.9,1010 L483.5,1009 L483.5,1106.7 L414,1106.7 Z M414,1010 L483.5,1106.7 M483.5,1009 L414,1106.7"/></g>
</g>
<!-- belt1 tapered end -->
<path d="M1934,1014 L1947,1016 L1947,1121 L1934,1123 Z" fill="#1c1818"/>
<path d="M1946.8,1019 L1964,1024 Q1972,1028 1973,1036 L1975,1063 L1973,1097 Q1971,1113 1964,1115.7 L1946.8,1119 Z" fill="#b01a36"/>
<path d="M1950,1021 L1957,1022 L1957,1117 L1950,1118 Z" fill="#cc0b6a"/>
<!-- tab 1 -->
<path fill-rule="evenodd" fill="url(#tabG)" d="M1925,1010 L1937,1003 L2043,1008 Q2080,1011 2082,1042 L2081,1090 Q2078,1126 2045,1133 L1941,1139.5 L1925,1128 L1936,1123 L1965,1117 Q1976,1111 1976,1099 L1977,1037 Q1976,1027 1965,1024 L1937,1015 Z M2027,1044.3 L2058,1044.3 Q2063.5,1044.3 2063.5,1050 L2063.5,1093 Q2063.5,1099 2058,1099 L2027,1099 Q2021.2,1099 2021.2,1093 L2021.2,1050 Q2021.2,1044.3 2027,1044.3 Z"/>
<path d="M1928,1009 L1937,1014 L1965,1023 Q1977,1027 1978,1037 L1977,1099 Q1977,1112 1965,1118 L1936,1124 L1926,1128" fill="none" stroke="#f4f4f4" stroke-width="2"/>
<!-- loop 1 -->
<path d="M1802.2,1008.6 Q1802.2,991.2 1819.6,991.2 L1826.3,991.2 Q1835.0,991.2 1838.5,999.1 Q1842.0,991.2 1850.7,991.2 L1857.4,991.2 Q1874.8,991.2 1874.8,1008.6 L1874.8,1122.4 Q1874.8,1139.8 1857.4,1139.8 L1850.7,1139.8 Q1842.0,1139.8 1838.5,1131.9 Q1835.0,1139.8 1826.3,1139.8 L1819.6,1139.8 Q1802.2,1139.8 1802.2,1122.4 Z" fill="none" stroke="#141414" stroke-width="6.5" stroke-linejoin="round"/><path d="M1808.1,1014.5 L1808.1,1116.5 M1868.9,1014.5 L1868.9,1116.5" stroke="#4a4a4a" stroke-width="1" opacity="0.8"/>
<!-- buckle 1 -->
<rect x="320.7" y="982.8" width="24.30000000000001" height="153.20000000000005" rx="3" fill="url(#clipGbk1)"/>
<rect x="338.3" y="986.8" width="2.2" height="145.20000000000005" fill="#555"/>
<rect x="324.7" y="982.8" width="13.4" height="7" fill="#f4f4f4" opacity="0.7"/>
<rect x="169.3" y="981.8" width="153.39999999999998" height="155.20000000000005" rx="4" fill="url(#bk1R)"/>
<rect x="169.3" y="981.8" width="153.39999999999998" height="155.20000000000005" rx="4" fill="url(#bodyH)"/>
<rect x="172.3" y="981.8" width="149.39999999999998" height="7" fill="#dcdcdc"/>
<rect x="172.3" y="988.8" width="149.39999999999998" height="1.6" fill="#8a8a8a"/>
<rect x="172.3" y="990.4" width="149.39999999999998" height="8.4" fill="#f2f2f2" opacity="0.8"/>
<rect x="172.3" y="1130" width="149.39999999999998" height="7" fill="#d4d4d4"/>
<rect x="172.3" y="1128.4" width="149.39999999999998" height="1.6" fill="#888"/>
<rect x="208.4" y="1015.4" width="89.0" height="82.6" rx="11.6" fill="#f5f5f5" stroke="#9a9a9a" stroke-width="1"/>
<rect x="212.4" y="1020" width="82.6" height="74.0" rx="8.3" fill="#070707"/>
<rect x="212.4" y="1020" width="82.6" height="33.3" rx="8.3" fill="url(#glossG)"/>
<clipPath id="bk1L"><rect x="212.4" y="1020" width="82.6" height="74.0" rx="8.3"/></clipPath><g clip-path="url(#bk1L)"><g transform="translate(212.4,1020) scale(0.8260,0.7400)"><g fill="none" stroke="#8c8c8c" stroke-linejoin="round" stroke-linecap="butt">
<path d="M2.4,29.5 L10.7,29 L11,23 L14.9,20.3 L16.1,14.9 L18.5,10.1 L33.3,16.2 L50.6,6.8 L67.3,16.2 L81.5,8.8 L86.3,16.2 L89.3,20.3 L91.1,24.3 L88,29 L99,29" stroke-width="2.8"/>
<path d="M2.4,42.6 L16,42.6 M2.4,54.4 L19,54.4 M2.4,66.2 L21.4,66.2 L47,101 M99,41.9 L84.5,41.9 M99,53.7 L82,53.7 M99,66.2 L80.4,66.2 L55.4,101" stroke-width="3.4"/>
<path d="M17.3,28.4 L82.7,28.4 L50.4,97 Z" stroke-width="3.6"/>
<path d="M49.7,29 L49.7,96" stroke-width="2.8"/>
</g>
<path d="M27.4,35.1 L43.5,35.1 L43.5,45.3 L33.9,50.7 L43.5,56.8 L43.5,75 Z M57.1,35.1 L73.2,35.1 L57.1,75 Z" fill="#8a8a8a"/>
</g></g>

<!-- ===== BELT 2 ===== -->
<!-- tab 2 -->
<path d="M1766,1996 Q1766,1985 1778,1984.5 L1796,1986 L1796,2090 L1778,2091 Q1766,2090 1765,2080 Z" fill="#383b3b"/>
<path fill-rule="evenodd" fill="url(#tab2G)" d="M1788,1988 Q1790,1985 1800,1987 L1830,1994.6 L1866,2012 Q1871,2030 1868,2051 L1831,2080 L1793,2091.7 L1788,2085 Z M1834,2016 L1851,2016 Q1855,2016 1855,2021 L1855,2049 Q1855,2054 1850,2054 L1834,2054 Q1829,2054 1829,2049 L1829,2021 Q1829,2016 1834,2016 Z"/>
<path d="M1834,2016 L1851,2016 Q1855,2016 1855,2021 L1855,2049 Q1855,2054 1850,2054 L1834,2054 Q1829,2054 1829,2049 L1829,2021 Q1829,2016 1834,2016 Z" fill="none" stroke="#3a3d3d" stroke-width="1.5"/>

<g transform="matrix(1,0.0028,0,1,0,-2.800)">
<g clip-path="url(#b2clip)">
<rect x="349.00" y="1992.8" width="87.25" height="85.70000000000005" fill="#0d6a2f"/>
<rect x="349.00" y="1992.8" width="3.17" height="85.70000000000005" fill="#a2c43a"/>
<rect x="356.23" y="1992.8" width="6.53" height="85.70000000000005" fill="#a2c43a"/>
<rect x="366.82" y="1992.8" width="5.28" height="85.70000000000005" fill="#a2c43a"/>
<rect x="376.16" y="1992.8" width="4.66" height="85.70000000000005" fill="#a2c43a"/>
<rect x="385.50" y="1992.8" width="3.73" height="85.70000000000005" fill="#a2c43a"/>
<rect x="395.47" y="1992.8" width="2.79" height="85.70000000000005" fill="#a2c43a"/>
<rect x="404.50" y="1992.8" width="2.48" height="85.70000000000005" fill="#a2c43a"/>
<rect x="413.53" y="1992.8" width="1.86" height="85.70000000000005" fill="#a2c43a"/>
<rect x="424.61" y="1992.8" width="1.67" height="85.70000000000005" fill="#1d1919"/>
<rect x="434.58" y="1992.8" width="1.67" height="85.70000000000005" fill="#1d1919"/>
<rect x="435.95" y="1992.8" width="64.45" height="85.70000000000005" fill="#c30664"/>
<rect x="500.10" y="1992.8" width="166.59" height="85.70000000000005" fill="#b41d3b"/>
<rect x="519.40" y="1992.8" width="2.79" height="85.70000000000005" fill="#c30664"/>
<rect x="537.47" y="1992.8" width="5.28" height="85.70000000000005" fill="#c30664"/>
<rect x="557.40" y="1992.8" width="2.79" height="85.70000000000005" fill="#c30664"/>
<rect x="572.03" y="1992.8" width="4.35" height="85.70000000000005" fill="#c30664"/>
<rect x="585.73" y="1992.8" width="6.84" height="85.70000000000005" fill="#c30664"/>
<rect x="599.43" y="1992.8" width="12.44" height="85.70000000000005" fill="#c30664"/>
<rect x="617.18" y="1992.8" width="9.95" height="85.70000000000005" fill="#c30664"/>
<rect x="633.38" y="1992.8" width="6.53" height="85.70000000000005" fill="#c30664"/>
<rect x="644.59" y="1992.8" width="9.02" height="85.70000000000005" fill="#c30664"/>
<rect x="655.80" y="1992.8" width="10.89" height="85.70000000000005" fill="#c30664"/>
<rect x="666.39" y="1992.8" width="12.76" height="85.70000000000005" fill="#1d1919"/>
<rect x="678.84" y="1992.8" width="41.72" height="85.70000000000005" fill="#c30664"/>
<rect x="720.26" y="1992.8" width="13.07" height="85.70000000000005" fill="#1d1919"/>
<rect x="733.02" y="1992.8" width="78.77" height="85.70000000000005" fill="#18a8ae"/>
<rect x="741.12" y="1992.8" width="2.17" height="85.70000000000005" fill="#1e85ca"/>
<rect x="751.71" y="1992.8" width="2.17" height="85.70000000000005" fill="#1e85ca"/>
<rect x="760.43" y="1992.8" width="2.79" height="85.70000000000005" fill="#1e85ca"/>
<rect x="769.46" y="1992.8" width="3.48" height="85.70000000000005" fill="#1e85ca"/>
<rect x="777.24" y="1992.8" width="4.66" height="85.70000000000005" fill="#1e85ca"/>
<rect x="787.21" y="1992.8" width="6.53" height="85.70000000000005" fill="#1e85ca"/>
<rect x="799.04" y="1992.8" width="5.28" height="85.70000000000005" fill="#1e85ca"/>
<rect x="811.50" y="1992.8" width="20.23" height="85.70000000000005" fill="#1e85ca"/>
<rect x="831.43" y="1992.8" width="70.68" height="85.70000000000005" fill="#0c2095"/>
<rect x="834.54" y="1992.8" width="5.91" height="85.70000000000005" fill="#1e85ca"/>
<rect x="844.51" y="1992.8" width="5.91" height="85.70000000000005" fill="#1e85ca"/>
<rect x="854.78" y="1992.8" width="4.35" height="85.70000000000005" fill="#1e85ca"/>
<rect x="863.81" y="1992.8" width="4.04" height="85.70000000000005" fill="#1e85ca"/>
<rect x="872.53" y="1992.8" width="3.41" height="85.70000000000005" fill="#1e85ca"/>
<rect x="882.25" y="1992.8" width="2.73" height="85.70000000000005" fill="#1e85ca"/>
<rect x="891.84" y="1992.8" width="2.17" height="85.70000000000005" fill="#1e85ca"/>
<rect x="901.80" y="1992.8" width="8.40" height="85.70000000000005" fill="#1d1919"/>
<rect x="909.90" y="1992.8" width="89.36" height="85.70000000000005" fill="#0d6a2f"/>
<rect x="918.62" y="1992.8" width="5.03" height="85.70000000000005" fill="#a2c43a"/>
<rect x="927.96" y="1992.8" width="5.28" height="85.70000000000005" fill="#a2c43a"/>
<rect x="937.05" y="1992.8" width="5.91" height="85.70000000000005" fill="#a2c43a"/>
<rect x="946.02" y="1992.8" width="4.97" height="85.70000000000005" fill="#a2c43a"/>
<rect x="954.74" y="1992.8" width="5.91" height="85.70000000000005" fill="#a2c43a"/>
<rect x="963.46" y="1992.8" width="6.90" height="85.70000000000005" fill="#a2c43a"/>
<rect x="972.49" y="1992.8" width="7.46" height="85.70000000000005" fill="#a2c43a"/>
<rect x="981.34" y="1992.8" width="8.33" height="85.70000000000005" fill="#a2c43a"/>
<rect x="990.68" y="1992.8" width="8.58" height="85.70000000000005" fill="#a2c43a"/>
<rect x="998.96" y="1992.8" width="5.28" height="85.70000000000005" fill="#1d1919"/>
<rect x="1003.94" y="1992.8" width="88.11" height="85.70000000000005" fill="#0d6a2f"/>
<rect x="1003.94" y="1992.8" width="8.40" height="85.70000000000005" fill="#a2c43a"/>
<rect x="1013.28" y="1992.8" width="8.65" height="85.70000000000005" fill="#a2c43a"/>
<rect x="1023.25" y="1992.8" width="6.53" height="85.70000000000005" fill="#a2c43a"/>
<rect x="1032.90" y="1992.8" width="5.97" height="85.70000000000005" fill="#a2c43a"/>
<rect x="1042.56" y="1992.8" width="5.16" height="85.70000000000005" fill="#a2c43a"/>
<rect x="1052.27" y="1992.8" width="4.29" height="85.70000000000005" fill="#a2c43a"/>
<rect x="1061.12" y="1992.8" width="4.35" height="85.70000000000005" fill="#a2c43a"/>
<rect x="1071.58" y="1992.8" width="3.54" height="85.70000000000005" fill="#a2c43a"/>
<rect x="1081.17" y="1992.8" width="3.41" height="85.70000000000005" fill="#a2c43a"/>
<rect x="1091.76" y="1992.8" width="18.98" height="85.70000000000005" fill="#0d6a2f"/>
<rect x="1100.48" y="1992.8" width="2.17" height="85.70000000000005" fill="#1d1919"/>
<rect x="1110.44" y="1992.8" width="51.99" height="85.70000000000005" fill="#1d1919"/>
<rect x="1112.68" y="1992.8" width="5.97" height="85.70000000000005" fill="#c30664"/>
<rect x="1122.27" y="1992.8" width="5.28" height="85.70000000000005" fill="#c30664"/>
<rect x="1130.99" y="1992.8" width="5.28" height="85.70000000000005" fill="#c30664"/>
<rect x="1140.96" y="1992.8" width="4.04" height="85.70000000000005" fill="#c30664"/>
<rect x="1149.68" y="1992.8" width="3.41" height="85.70000000000005" fill="#c30664"/>
<rect x="1159.46" y="1992.8" width="2.73" height="85.70000000000005" fill="#c30664"/>
<rect x="1162.13" y="1992.8" width="15.87" height="85.70000000000005" fill="#1d1919"/>
<rect x="1177.70" y="1992.8" width="159.11" height="85.70000000000005" fill="#b41d3b"/>
<rect x="1177.70" y="1992.8" width="5.28" height="85.70000000000005" fill="#c30664"/>
<rect x="1188.73" y="1992.8" width="3.23" height="85.70000000000005" fill="#c30664"/>
<rect x="1207.29" y="1992.8" width="4.35" height="85.70000000000005" fill="#c30664"/>
<rect x="1225.66" y="1992.8" width="3.41" height="85.70000000000005" fill="#c30664"/>
<rect x="1240.98" y="1992.8" width="4.91" height="85.70000000000005" fill="#c30664"/>
<rect x="1252.44" y="1992.8" width="7.77" height="85.70000000000005" fill="#c30664"/>
<rect x="1271.75" y="1992.8" width="10.26" height="85.70000000000005" fill="#c30664"/>
<rect x="1289.81" y="1992.8" width="6.53" height="85.70000000000005" fill="#c30664"/>
<rect x="1305.38" y="1992.8" width="9.64" height="85.70000000000005" fill="#c30664"/>
<rect x="1322.19" y="1992.8" width="11.51" height="85.70000000000005" fill="#c30664"/>
<rect x="1336.52" y="1992.8" width="7.15" height="85.70000000000005" fill="#1d1919"/>
<rect x="1343.37" y="1992.8" width="127.97" height="85.70000000000005" fill="#b41d3b"/>
<rect x="1352.09" y="1992.8" width="4.04" height="85.70000000000005" fill="#c30664"/>
<rect x="1367.66" y="1992.8" width="6.53" height="85.70000000000005" fill="#c30664"/>
<rect x="1383.23" y="1992.8" width="5.28" height="85.70000000000005" fill="#c30664"/>
<rect x="1398.80" y="1992.8" width="8.40" height="85.70000000000005" fill="#c30664"/>
<rect x="1415.61" y="1992.8" width="6.53" height="85.70000000000005" fill="#c30664"/>
<rect x="1433.05" y="1992.8" width="9.64" height="85.70000000000005" fill="#c30664"/>
<rect x="1451.74" y="1992.8" width="7.77" height="85.70000000000005" fill="#c30664"/>
<rect x="1464.19" y="1992.8" width="7.15" height="85.70000000000005" fill="#c30664"/>
<rect x="1471.04" y="1992.8" width="11.51" height="85.70000000000005" fill="#1d1919"/>
<rect x="1482.25" y="1992.8" width="42.03" height="85.70000000000005" fill="#c30664"/>
<rect x="1523.98" y="1992.8" width="14.00" height="85.70000000000005" fill="#1d1919"/>
<rect x="1537.68" y="1992.8" width="78.77" height="85.70000000000005" fill="#18a8ae"/>
<rect x="1545.78" y="1992.8" width="2.17" height="85.70000000000005" fill="#1e85ca"/>
<rect x="1556.37" y="1992.8" width="2.17" height="85.70000000000005" fill="#1e85ca"/>
<rect x="1565.09" y="1992.8" width="2.79" height="85.70000000000005" fill="#1e85ca"/>
<rect x="1573.80" y="1992.8" width="3.41" height="85.70000000000005" fill="#1e85ca"/>
<rect x="1581.90" y="1992.8" width="4.66" height="85.70000000000005" fill="#1e85ca"/>
<rect x="1591.87" y="1992.8" width="6.53" height="85.70000000000005" fill="#1e85ca"/>
<rect x="1603.70" y="1992.8" width="5.28" height="85.70000000000005" fill="#1e85ca"/>
<rect x="1613.66" y="1992.8" width="2.79" height="85.70000000000005" fill="#1e85ca"/>
<rect x="1616.16" y="1992.8" width="20.23" height="85.70000000000005" fill="#1e85ca"/>
<rect x="1636.08" y="1992.8" width="70.05" height="85.70000000000005" fill="#0c2095"/>
<rect x="1639.20" y="1992.8" width="5.91" height="85.70000000000005" fill="#1e85ca"/>
<rect x="1649.16" y="1992.8" width="5.91" height="85.70000000000005" fill="#1e85ca"/>
<rect x="1659.13" y="1992.8" width="4.66" height="85.70000000000005" fill="#1e85ca"/>
<rect x="1668.47" y="1992.8" width="4.04" height="85.70000000000005" fill="#1e85ca"/>
<rect x="1677.19" y="1992.8" width="3.41" height="85.70000000000005" fill="#1e85ca"/>
<rect x="1686.53" y="1992.8" width="2.79" height="85.70000000000005" fill="#1e85ca"/>
<rect x="1696.50" y="1992.8" width="2.17" height="85.70000000000005" fill="#1e85ca"/>
<rect x="1705.84" y="1992.8" width="7.15" height="85.70000000000005" fill="#1d1919"/>
<rect x="1712.69" y="1992.8" width="77.61" height="85.70000000000005" fill="#0d6a2f"/>
<rect x="1723.03" y="1992.8" width="3.29" height="85.70000000000005" fill="#a2c43a"/>
<rect x="1732.00" y="1992.8" width="5.28" height="85.70000000000005" fill="#a2c43a"/>
<rect x="1741.28" y="1992.8" width="5.41" height="85.70000000000005" fill="#a2c43a"/>
<rect x="1750.68" y="1992.8" width="5.41" height="85.70000000000005" fill="#a2c43a"/>
<rect x="1759.40" y="1992.8" width="6.09" height="85.70000000000005" fill="#a2c43a"/>
<rect x="1767.99" y="1992.8" width="6.28" height="85.70000000000005" fill="#a2c43a"/>
<rect x="1776.03" y="1992.8" width="12.32" height="85.70000000000005" fill="#a2c43a"/>
<rect x="349" y="1992.8" width="1440" height="3.8" fill="#0c0c0c"/>
<rect x="349" y="2074.7" width="1440" height="3.8" fill="#0c0c0c"/>
</g>
<g stroke="#1d1d1d" stroke-width="1.3" fill="none"><path d="M400,2004 L436,2003 L436,2068 L401,2069 Z M400,2004 L436,2068 M436,2003 L401,2069"/></g>
</g>
<path d="M1786,1997 L1787,2080" stroke="#e8e8e8" stroke-width="2.2"/>
<!-- loop 2 -->
<path d="M1621.5,2001.7 Q1621.5,1987.2 1636.0,1987.2 L1641.5,1987.2 Q1648.8,1987.2 1651.7,1993.8 Q1654.5,1987.2 1661.8,1987.2 L1667.3,1987.2 Q1681.8,1987.2 1681.8,2001.7 L1681.8,2073.3 Q1681.8,2087.8 1667.3,2087.8 L1661.8,2087.8 Q1654.5,2087.8 1651.7,2081.2 Q1648.8,2087.8 1641.5,2087.8 L1636.0,2087.8 Q1621.5,2087.8 1621.5,2073.3 Z" fill="none" stroke="#1e1e1e" stroke-width="5.5" stroke-linejoin="round"/><path d="M1626.5,2006.7 L1626.5,2068.3 M1676.8,2006.7 L1676.8,2068.3" stroke="#4a4a4a" stroke-width="1" opacity="0.8"/>
<!-- buckle 2 -->
<rect x="328.3" y="1989" width="21.5" height="98.19999999999982" rx="3" fill="url(#clipGbk2)"/>
<rect x="343.9" y="1993" width="2.0" height="90.19999999999982" fill="#555"/>
<rect x="332.3" y="1989" width="11.7" height="5" fill="#f4f4f4" opacity="0.7"/>
<rect x="233.4" y="1988" width="96.9" height="100.19999999999982" rx="4" fill="url(#bk2R)"/>
<rect x="233.4" y="1988" width="96.9" height="100.19999999999982" rx="4" fill="url(#bodyH)"/>
<rect x="236.4" y="1988" width="92.9" height="5" fill="#dcdcdc"/>
<rect x="236.4" y="1993" width="92.9" height="1.6" fill="#8a8a8a"/>
<rect x="236.4" y="1994.6" width="92.9" height="6.0" fill="#f2f2f2" opacity="0.8"/>
<rect x="236.4" y="2083.2" width="92.9" height="5" fill="#d4d4d4"/>
<rect x="236.4" y="2081.6" width="92.9" height="1.6" fill="#888"/>
<rect x="252" y="2010" width="61.0" height="61.0" rx="7.9" fill="#f5f5f5" stroke="#9a9a9a" stroke-width="1"/>
<rect x="260.4" y="2013.7" width="48.5" height="53.1" rx="4.9" fill="#070707"/>
<rect x="260.4" y="2013.7" width="48.5" height="23.9" rx="4.9" fill="url(#glossG)"/>
<clipPath id="bk2L"><rect x="260.4" y="2013.7" width="48.5" height="53.1" rx="4.9"/></clipPath><g clip-path="url(#bk2L)"><g transform="translate(260.4,2013.7) scale(0.4850,0.5310)"><g fill="none" stroke="#8c8c8c" stroke-linejoin="round" stroke-linecap="butt">
<path d="M2.4,29.5 L10.7,29 L11,23 L14.9,20.3 L16.1,14.9 L18.5,10.1 L33.3,16.2 L50.6,6.8 L67.3,16.2 L81.5,8.8 L86.3,16.2 L89.3,20.3 L91.1,24.3 L88,29 L99,29" stroke-width="2.8"/>
<path d="M2.4,42.6 L16,42.6 M2.4,54.4 L19,54.4 M2.4,66.2 L21.4,66.2 L47,101 M99,41.9 L84.5,41.9 M99,53.7 L82,53.7 M99,66.2 L80.4,66.2 L55.4,101" stroke-width="3.4"/>
<path d="M17.3,28.4 L82.7,28.4 L50.4,97 Z" stroke-width="3.6"/>
<path d="M49.7,29 L49.7,96" stroke-width="2.8"/>
</g>
<path d="M27.4,35.1 L43.5,35.1 L43.5,45.3 L33.9,50.7 L43.5,56.8 L43.5,75 Z M57.1,35.1 L73.2,35.1 L57.1,75 Z" fill="#8a8a8a"/>
</g></g>
</svg>
</body></html>
